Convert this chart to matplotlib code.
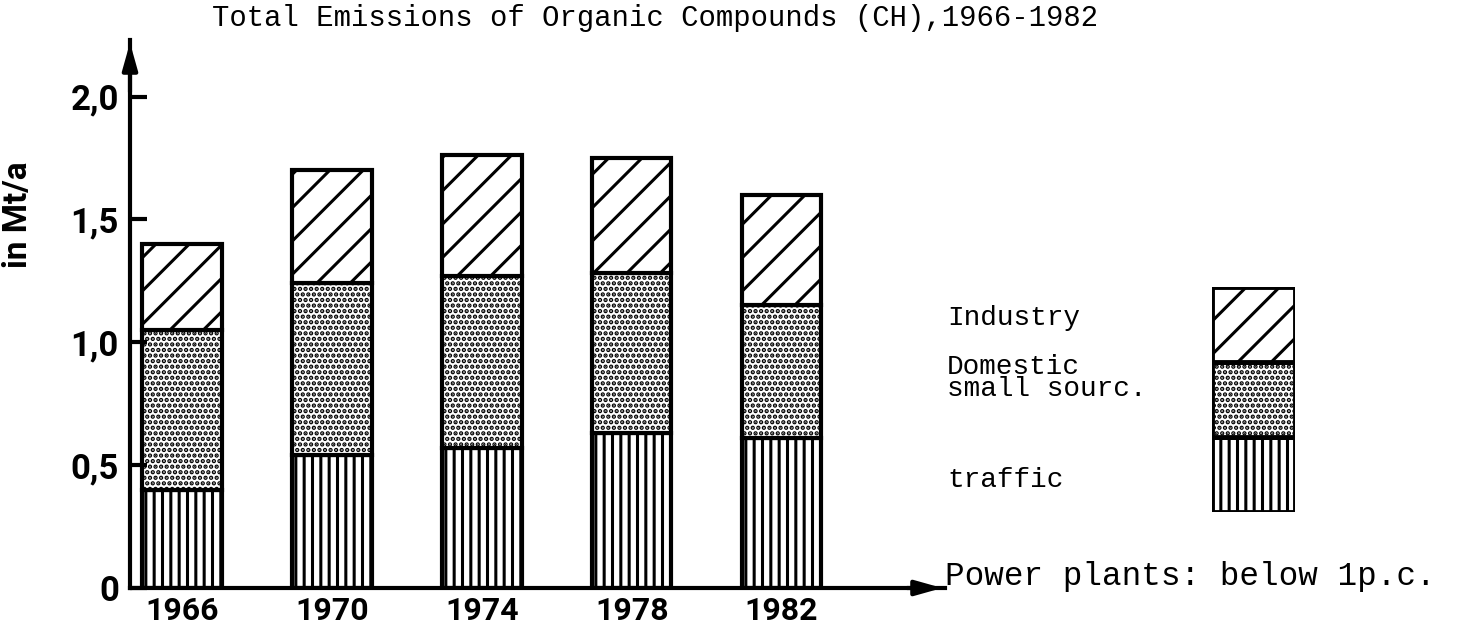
import matplotlib.pyplot as plt
from matplotlib.patches import Rectangle

years = ['1966', '1970', '1974', '1978', '1982']
traffic = [0.40, 0.54, 0.57, 0.63, 0.61]
domestic = [0.65, 0.70, 0.70, 0.65, 0.54]
industry = [0.35, 0.46, 0.49, 0.47, 0.45]
y_ticks = [0, 0.5, 1.0, 1.5, 2.0]
y_tick_labels = ['0', '0,5', '1,0', '1,5', '2,0']

plt.rcParams['hatch.linewidth'] = 2.2
W, H = 1468, 638
narrow = ['Roboto', 'DejaVu Sans']
mono = ['Liberation Mono', 'DejaVu Sans Mono']


def px(x, y):
    # pixel position (from top-left) to figure fraction
    return x / W, 1 - y / H


fig = plt.figure(figsize=(W / 100, H / 100), dpi=100)
ax = fig.add_axes([130 / W, (H - 588) / H, (945 - 130) / W, (588 - 40) / H])

x = range(len(years))
bw = 0.53
style = dict(width=bw, edgecolor='black', linewidth=3, color='white')
ax.bar(x, traffic, hatch='||', **style)
bottom2 = [t for t in traffic]
ax.bar(x, domestic, bottom=bottom2, hatch='...', **style)
bottom3 = [t + d for t, d in zip(traffic, domestic)]
ax.bar(x, industry, bottom=bottom3, hatch='/', **style)

ax.set_xlim(-0.347, 5.09)
ax.set_ylim(0, 2.23)
for s in ['top', 'right']:
    ax.spines[s].set_visible(False)
for s in ['left', 'bottom']:
    ax.spines[s].set_linewidth(3)
ax.set_yticks(y_ticks)
ax.set_yticklabels(y_tick_labels, family=narrow, fontsize=25, fontweight='bold')
ax.tick_params(axis='y', direction='in', length=12, width=3, pad=8)
ax.set_xticks(list(x))
ax.set_xticklabels(years, family=narrow, fontsize=23, fontweight='bold')
ax.tick_params(axis='x', length=0, pad=6)

fig.text(*px(18, 215), 'in Mt/a', family=narrow, fontsize=24, fontweight='bold',
         rotation=90, ha='center', va='center')

# axis arrows
ax.annotate('', xy=(0, 1.0), xytext=(0, 0.9), xycoords='axes fraction',
            arrowprops=dict(arrowstyle='-|>,head_length=1.6,head_width=0.45', lw=3, color='black'))
ax.annotate('', xy=(1.0, 0), xytext=(0.95, 0), xycoords='axes fraction',
            arrowprops=dict(arrowstyle='-|>,head_length=1.6,head_width=0.45', lw=3, color='black'))

fig.text(*px(655, 18), 'Total Emissions of Organic Compounds (CH),1966-1982',
         family=mono, fontsize=20.8, ha='center', va='center')

# legend box
lax = fig.add_axes([1212 / W, (H - 512) / H, (1295 - 1212) / W, (512 - 287) / H])
lax.add_patch(Rectangle((0, 0), 1, 1 / 3, facecolor='white', edgecolor='black', lw=3.5, hatch='||'))
lax.add_patch(Rectangle((0, 1 / 3), 1, 1 / 3, facecolor='white', edgecolor='black', lw=3.5, hatch='...'))
lax.add_patch(Rectangle((0, 2 / 3), 1, 1 / 3, facecolor='white', edgecolor='black', lw=3.5, hatch='/'))
lax.set_xlim(0, 1)
lax.set_ylim(0, 1)
lax.axis('off')

fig.text(*px(947, 318), 'Industry', family=mono, fontsize=20, va='center')
fig.text(*px(947, 378), 'Domestic\nsmall sourc.', family=mono, fontsize=20, va='center',
         linespacing=0.8)
fig.text(*px(947, 480), 'traffic', family=mono, fontsize=20, va='center')
fig.text(*px(945, 577), 'Power plants: below 1p.c.', family=mono, fontsize=23.5, va='center')

fig.savefig('out.png', dpi=100)
